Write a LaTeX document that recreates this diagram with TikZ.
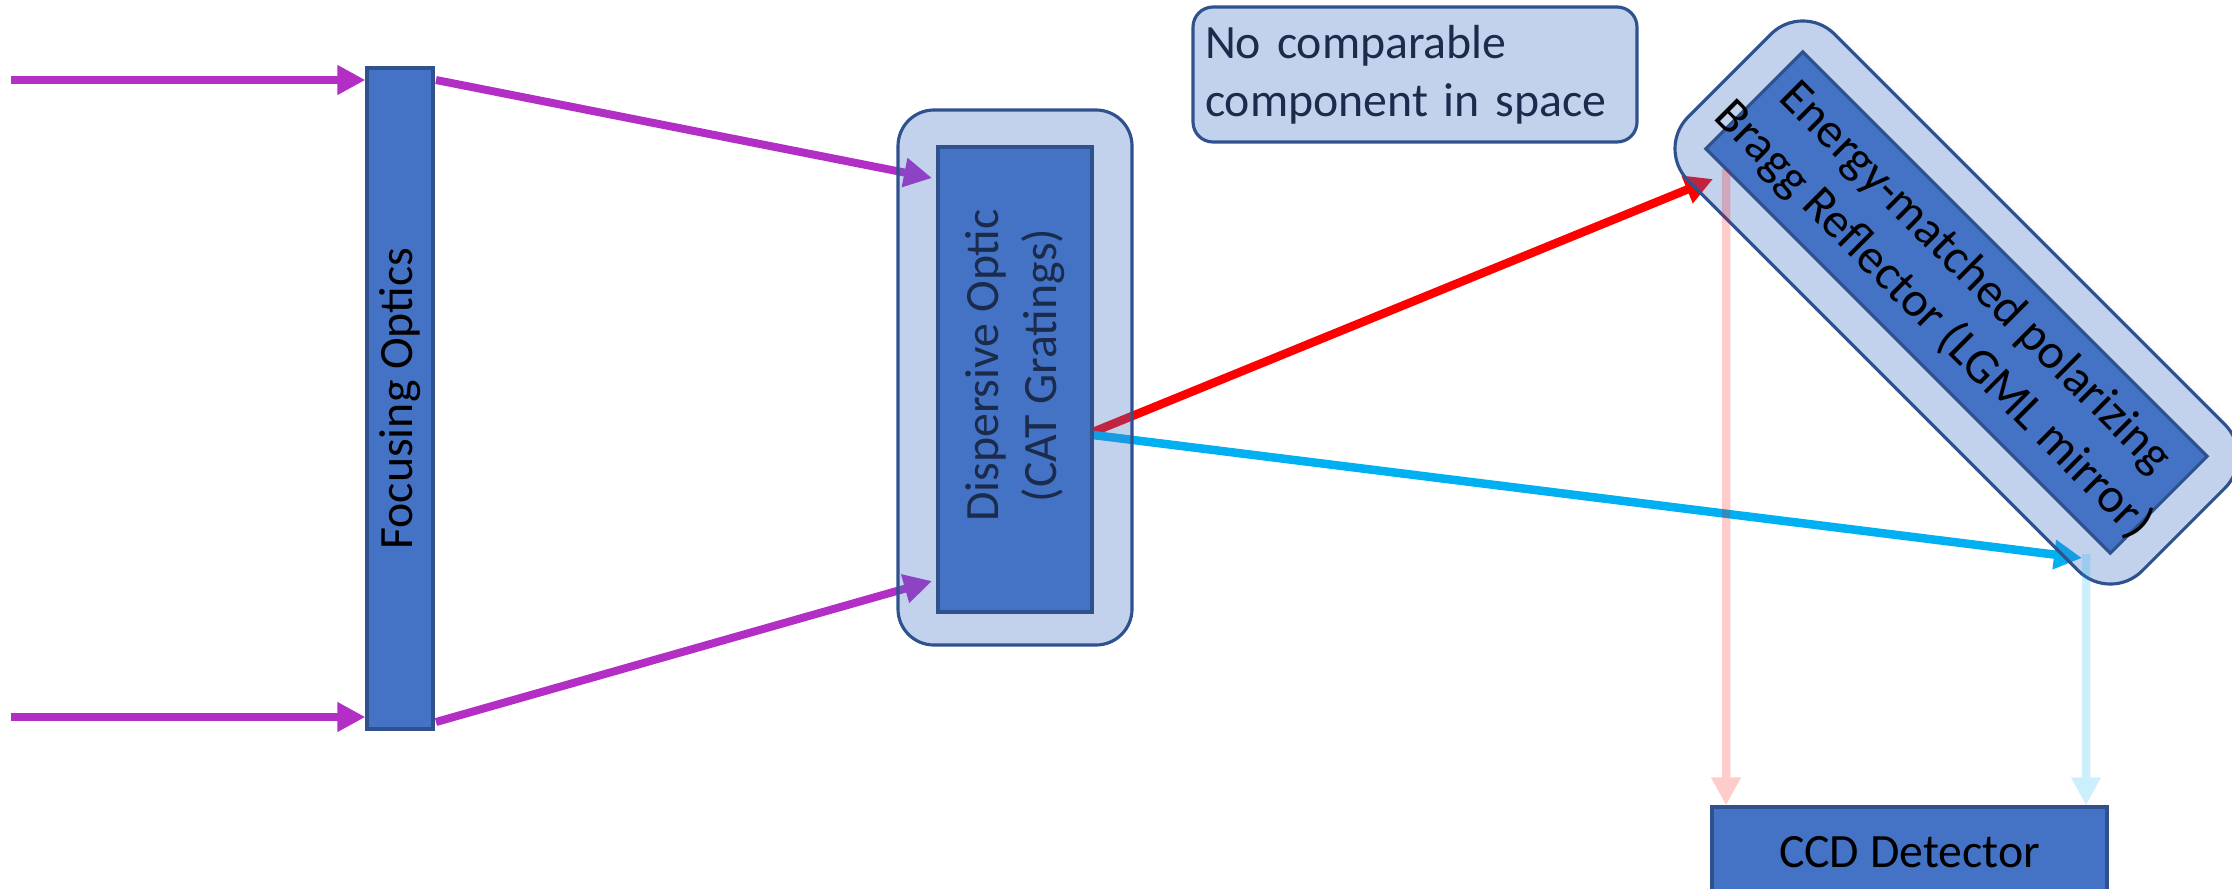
\documentclass[tikz,border=0pt]{standalone}
\usepackage{fontspec}
\setmainfont{Carlito}
\usepackage{tkz-euclide}
\usetikzlibrary{arrows.meta}
\definecolor{optblue}{HTML}{4472C4}
\definecolor{optedge}{HTML}{2F528F}
\definecolor{navytext}{HTML}{1A2B4C}
\definecolor{beamviolet}{HTML}{B22EC4}
\definecolor{beamcyan}{HTML}{00B0F0}
\begin{document}
\begin{tikzpicture}[
                    optic/.style={draw=optedge,line width=0.9pt,fill=optblue,inner sep=0pt},
                    holder/.style={draw=optedge,line width=0.9pt,fill=optblue,fill opacity=0.32,text opacity=1,rounded corners=0.36cm,inner sep=0pt},
                    beam/.style={line width=0.08cm,-{Triangle[length=0.28cm,width=0.28cm]}},
                    ghost/.style={line width=0.085cm,-{Triangle[length=0.28cm,width=0.28cm]}},
                    lbl/.style={font=\fontsize{13.6}{16.5}\selectfont}]
                    \clip (0,0) rectangle (22.32,8.88);
                    \tkzDefPoints{0.11/8.08/inA,0.11/1.71/inB,4.36/8.08/fA,4.36/1.66/fB,9.32/7.10/dA,9.32/3.07/dB}
                    \tkzDefPoints{10.93/4.56/gR,10.93/4.53/gB,17.13/7.09/mR,20.82/3.30/mB,17.26/7.19/rR,20.86/3.34/rB}
                    \node[optic,minimum width=0.66cm,minimum height=6.61cm] (focus) at (4.00,4.895) {};
                    \node[lbl,rotate=90] at (focus.center) {Focusing Optics};
                    \draw[beam,beamviolet] (inA) -- (inA -| focus.west);
                    \draw[beam,beamviolet] (inB) -- (inB -| focus.west);
                    \draw[beam,beamviolet] (fA) -- (dA);
                    \draw[beam,beamviolet] (fB) -- (dB);
                    \draw[beam,line width=0.085cm,red] (gR) -- (mR);
                    \draw[beam,line width=0.085cm,beamcyan] (gB) -- (mB);
                    \node[holder,minimum width=2.34cm,minimum height=5.35cm] (dispH) at (10.15,5.105) {};
                    \node[optic,minimum width=1.54cm,minimum height=4.65cm] (disp) at (10.15,5.085) {};
                    \node[lbl,rotate=90,text=navytext,align=center] at ([yshift=0.14cm]disp.center) {Dispersive Optic\\(CAT Gratings)};
                    \node[holder,lbl,rounded corners=0.2cm,minimum width=4.44cm,minimum height=1.35cm,text width=4.2cm,align=left,text=navytext] (nocomp) at (14.15,8.135) {No comparable\\component in space};
                    \node[holder,rounded corners=0.45cm,minimum width=6.42cm,minimum height=2.07cm,rotate=-45] (braggH) at (19.565,5.855) {};
                    \node[optic,minimum width=5.72cm,minimum height=1.37cm,rotate=-45] (bragg) at (19.565,5.855) {};
                    \node[rotate=-45,align=center,font=\fontsize{14}{17}\selectfont] at ([shift={(-0.03,0.03)}]bragg.center) {Energy-matched polarizing\\Bragg Reflector (LGML mirror)};
                    \node[optic,lbl,minimum width=3.95cm,minimum height=0.9cm] (ccd) at (19.095,0.36) {CCD Detector};
                    \begin{scope}[transparency group,opacity=0.2]
                    \draw[ghost,red] (rR) -- (rR |- ccd.north);
                    \draw[ghost,beamcyan] (rB) -- (rB |- ccd.north);
                    \end{scope}
                \end{tikzpicture}
\end{document}
